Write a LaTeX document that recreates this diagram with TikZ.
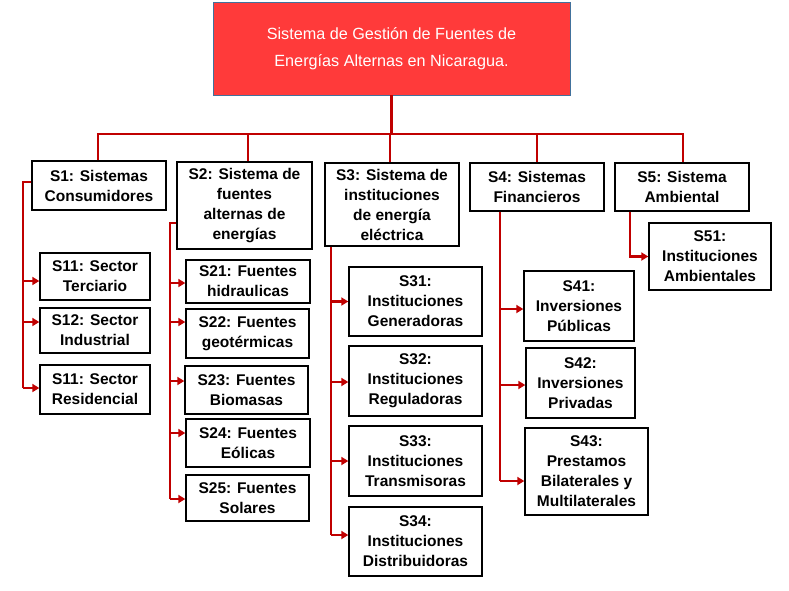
\documentclass[tikz,border=0pt]{standalone}
\usepackage{fontspec}
\setmainfont{Liberation Sans}
\usetikzlibrary{arrows.meta}
\definecolor{conred}{RGB}{192,0,0}
\definecolor{titred}{RGB}{255,58,58}
\definecolor{titedge}{RGB}{65,113,156}
\tikzset{
  box/.style={draw=black,line width=1.4pt,inner sep=0pt,align=center,
    font=\bfseries\fontsize{15.5}{20}\selectfont},
  conn/.style={draw=conred,line width=2.4pt},
  arr/.style={draw=conred,line width=2.4pt,-{Triangle[length=7pt,width=8pt]}},
}
\newcommand{\bx}[6]{\node[box,minimum width=#4,minimum height=#5] (#1) at (#2,#3) {#6};}
\begin{document}
\begin{tikzpicture}[x=1pt,y=-1pt]
\useasboundingbox (0,0) rectangle (789,590);
% title
\node[fill=titred,draw=titedge,line width=0.8pt,minimum width=357,minimum height=93,inner sep=0pt,
  align=center,text=white,font=\fontsize{16.2}{27}\selectfont] (title) at (391.5,48.5)
  {Sistema de Gestión de Fuentes de\\Energías Alternas en Nicaragua.};
% top level
\bx{S1}{99}{185.5}{134}{49}{S1: Sistemas\\Consumidores}
\bx{S2}{244.5}{205.5}{135}{87}{S2: Sistema de\\fuentes\\alternas de\\energías}
\bx{S3}{392}{204.5}{134}{83}{S3: Sistema de\\instituciones\\de energía\\eléctrica}
\bx{S4}{537}{187}{134}{48}{S4: Sistemas\\Financieros}
\bx{S5}{682}{187}{134}{48}{S5: Sistema\\Ambiental}
% S1 children
\bx{S11a}{95}{276.5}{110}{47}{S11: Sector\\Terciario}
\bx{S12}{95}{330.5}{110}{45}{S12: Sector\\Industrial}
\bx{S11b}{95}{389.5}{110}{49}{S11: Sector\\Residencial}
% S2 children
\bx{S21}{248}{281.5}{124}{43}{S21: Fuentes\\hidraulicas}
\bx{S22}{247.5}{333.5}{123}{49}{S22: Fuentes\\geotérmicas}
\bx{S23}{246.5}{390}{123}{48}{S23: Fuentes\\Biomasas}
\bx{S24}{248}{443}{124}{48}{S24: Fuentes\\Eólicas}
\bx{S25}{247.5}{498}{123}{46}{S25: Fuentes\\Solares}
% S3 children
\bx{S31}{415.5}{301.5}{133}{69}{S31:\\Instituciones\\Generadoras}
\bx{S32}{415.5}{381}{133}{70}{S32:\\Instituciones\\Reguladoras}
\bx{S33}{415.5}{461}{133}{70}{S33:\\Instituciones\\Transmisoras}
\bx{S34}{415.5}{541.5}{133}{69}{S34:\\Instituciones\\Distribuidoras}
% S4 children
\bx{S41}{579}{306}{110}{70}{S41:\\Inversiones\\Públicas}
\bx{S42}{580.5}{383}{109}{70}{S42:\\Inversiones\\Privadas}
\bx{S43}{586.5}{471.5}{123}{87}{S43:\\Prestamos\\Bilaterales y\\Multilaterales}
% S5 child
\bx{S51}{710}{256.5}{122}{67}{S51:\\Instituciones\\Ambientales}
% bus
\coordinate (busL) at (98,134);
\coordinate (busR) at (683,134);
\draw[conn] (title.south) -- (title.south |- busL);
\draw[conn] ([xshift=-1.2pt]busL) -- ([xshift=1.2pt]busR);
\draw[conn] ([xshift=-1pt]S1.north) -- ([xshift=-1pt]S1.north |- busL);
\draw[conn] ([xshift=3.5pt]S2.north) -- ([xshift=3.5pt]S2.north |- busL);
\draw[conn] ([xshift=-2pt]S3.north) -- ([xshift=-2pt]S3.north |- busL);
\draw[conn] (S4.north) -- (S4.north |- busL);
\draw[conn] ([xshift=1pt]S5.north) -- ([xshift=1pt]S5.north |- busL);
% trunks
\coordinate (t1) at (23,388);
\coordinate (t2) at (170,499);
\coordinate (t3) at (331,535);
\coordinate (t4) at (500,481);
\coordinate (t5) at (630,257);
\draw[conn] ([yshift=3.5pt]S1.west) -| (t1);
\draw[conn] ([yshift=-17.5pt]S2.west) -| (t2);
\draw[conn] (S3.south -| t3) -- (t3);
\draw[conn] (S4.south -| t4) -- (t4);
\draw[arr] (S5.south -| t5) |- (S51.west);
% branch arrows
\draw[arr] ([yshift=-4.5pt]S11a.west -| t1) -- ([yshift=-4.5pt]S11a.west);
\draw[arr] ([yshift=8.5pt]S12.west -| t1) -- ([yshift=8.5pt]S12.west);
\draw[arr] ([yshift=1.5pt]S11b.west -| t1) -- ([yshift=1.5pt]S11b.west);
\draw[arr] ([yshift=-1.5pt]S21.west -| t2) -- ([yshift=-1.5pt]S21.west);
\draw[arr] ([yshift=11.5pt]S22.west -| t2) -- ([yshift=11.5pt]S22.west);
\draw[arr] ([yshift=9pt]S23.west -| t2) -- ([yshift=9pt]S23.west);
\draw[arr] ([yshift=10pt]S24.west -| t2) -- ([yshift=10pt]S24.west);
\draw[arr] ([yshift=-1pt]S25.west -| t2) -- ([yshift=-1pt]S25.west);
\draw[arr] (S31.west -| t3) -- (S31.west);
\draw[arr] ([yshift=-1pt]S32.west -| t3) -- ([yshift=-1pt]S32.west);
\draw[arr] (S33.west -| t3) -- (S33.west);
\draw[arr] ([yshift=6.5pt]S34.west -| t3) -- ([yshift=6.5pt]S34.west);
\draw[arr] ([yshift=-3pt]S41.west -| t4) -- ([yshift=-3pt]S41.west);
\draw[arr] ([yshift=-2pt]S42.west -| t4) -- ([yshift=-2pt]S42.west);
\draw[arr] ([yshift=-9.5pt]S43.west -| t4) -- ([yshift=-9.5pt]S43.west);
\end{tikzpicture}
\end{document}
